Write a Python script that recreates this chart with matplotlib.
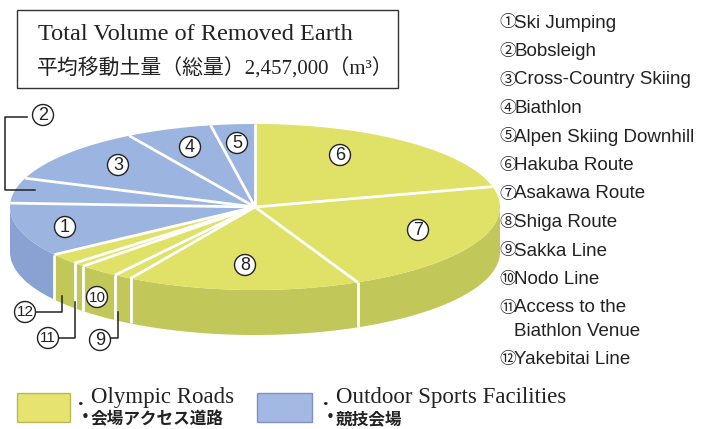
import numpy as np
import matplotlib
matplotlib.use("Agg")
import matplotlib.pyplot as plt
from matplotlib.patches import Polygon, Circle, Rectangle

# share of removed earth per item (percent)
item_numbers = [1, 2, 3, 4, 5, 6, 7, 8, 9, 10, 11, 12]
item_names = ["Ski Jumping", "Bobsleigh", "Cross-Country Skiing", "Biathlon",
              "Alpen Skiing Downhill", "Hakuba Route", "Asakawa Route", "Shiga Route",
              "Sakka Line", "Nodo Line", "Access to the\nBiathlon Venue", "Yakebitai Line"]
item_shares = [10.5, 4.9, 10.8, 5.7, 2.9, 21.1, 22.1, 15.4, 1.2, 2.7, 0.8, 2.1]
item_groups = ["fac", "fac", "fac", "fac", "fac",
               "road", "road", "road", "road", "road", "road", "road"]
draw_order = [6, 7, 8, 9, 10, 11, 12, 1, 2, 3, 4, 5]   # clockwise from 12 o'clock

circled = "①②③④⑤⑥⑦⑧⑨⑩⑪⑫"

top_col = {"road": "#dfe267", "fac": "#9cb4e0"}
side_col = {"road": "#c2c75a", "fac": "#8aa2d2"}

# pie geometry (pixels, y down)
cx, cy, ra, rb, depth = 255, 207, 245, 83, 45


def ell(t):
    t = np.radians(t)
    return cx + ra * np.cos(t), cy - rb * np.sin(t)


fig = plt.figure(figsize=(7.12, 4.29), dpi=100)
ax = fig.add_axes([0, 0, 1, 1])
ax.set_xlim(0, 712)
ax.set_ylim(429, 0)
ax.set_aspect("equal")
ax.axis("off")

shares = np.array(item_shares) / np.sum(item_shares) * 360
start = 90.0
spans = {}
for n in draw_order:
    end = start - shares[n - 1]
    spans[n] = (end, start)
    start = end

# side faces (front half only)
for n in draw_order:
    lo, hi = spans[n]
    lo2, hi2 = max(lo, -180), min(hi, 0)
    if lo2 >= hi2:
        continue
    t = np.linspace(lo2, hi2, 80)
    x, y = ell(t)
    pts = np.column_stack([np.r_[x, x[::-1]], np.r_[y, (y + depth)[::-1]]])
    ax.add_patch(Polygon(pts, closed=True, facecolor=side_col[item_groups[n - 1]],
                         edgecolor="none", zorder=2))

# top faces
for n in draw_order:
    lo, hi = spans[n]
    t = np.linspace(lo, hi, 120)
    x, y = ell(t)
    pts = np.column_stack([np.r_[cx, x], np.r_[cy, y]])
    ax.add_patch(Polygon(pts, closed=True, facecolor=top_col[item_groups[n - 1]],
                         edgecolor="none", zorder=3))

# white separators
for n in draw_order:
    lo, hi = spans[n]
    bx, by = ell(hi)
    ax.plot([cx, bx], [cy, by], color="white", lw=2, zorder=4, solid_capstyle="butt")
    if -180 < hi < 0:
        ax.plot([bx, bx], [by, by + depth], color="white", lw=2, zorder=4,
                solid_capstyle="butt")

# number badges on / around the pie
badge_pos = {1: (65, 227), 2: (43, 115), 3: (118, 165), 4: (190, 147), 5: (237, 143),
             6: (340, 155), 7: (418, 230), 8: (245, 265), 9: (100, 340), 10: (97, 297),
             11: (48, 338), 12: (25, 312)}
for n, (bx, by) in badge_pos.items():
    ax.add_patch(Circle((bx, by), 10.5, facecolor="white", edgecolor="#222222", lw=1, zorder=6))
    ax.text(bx, by + 0.5, str(n), ha="center", va="center", fontsize=13 if n < 10 else 11,
            family="Liberation Sans", color="#222222", zorder=7)

# leader lines
leaders = [([27, 5, 5, 35], [117, 117, 190, 190]),
           ([36, 62, 62], [312, 312, 296]),
           ([58, 75, 75], [338, 338, 302]),
           ([110, 118, 118], [338, 338, 312])]
for lx, ly in leaders:
    ax.plot(lx, ly, color="#222222", lw=1.1, zorder=5)

# title box
ax.add_patch(Rectangle((17, 10), 381, 78, facecolor="white", edgecolor="#333333", lw=1, zorder=5))
ax.text(38, 35, "Total Volume of Removed Earth", fontsize=17.5, va="center",
        family=["Liberation Serif", "Noto Sans CJK JP"], color="#222222", zorder=6)
ax.text(37, 69, "平均移動土量（総量）2,457,000（m³）", fontsize=15, va="center",
        family=["Liberation Serif", "Noto Sans CJK JP"], color="#222222", zorder=6)

# item list on the right
ly = 23
for n, name in zip(item_numbers, item_names):
    lines = name.split("\n")
    ax.text(499, ly, circled[n - 1], fontsize=12, va="center",
            family=["Noto Sans CJK JP", "DejaVu Sans"], color="#222222")
    ax.text(514, ly, lines[0], fontsize=13.5, va="center",
            family="Liberation Sans", color="#222222")
    for extra in lines[1:]:
        ly += 23
        ax.text(514, ly, extra, fontsize=13.5, va="center",
                family="Liberation Sans", color="#222222")
    ly += 28.5

# colour legend
ax.add_patch(Rectangle((17, 393), 53, 29, facecolor="#e6e36f", edgecolor="#b8b85a", lw=1))
ax.add_patch(Rectangle((257, 393), 55, 29, facecolor="#a3b8e2", edgecolor="#7d92c0", lw=1))
for x0, en, jp in [(78, "Olympic Roads", "会場アクセス道路"),
                   (323, "Outdoor Sports Facilities", "競技会場")]:
    ax.text(x0, 400, ".", fontsize=16, va="center", family="Liberation Serif",
            fontweight="bold", color="#222222")
    ax.text(x0 + 13, 398, en, fontsize=16.5, va="center", family="Liberation Serif",
            color="#222222")
    ax.text(x0 + 3, 417, "•", fontsize=11, va="center", family="DejaVu Sans",
            color="#222222")
    ax.text(x0 + 13, 419, jp, fontsize=12, va="center", family="Noto Sans CJK JP",
            fontweight="bold", color="#222222")

fig.savefig("out.png", dpi=100)
